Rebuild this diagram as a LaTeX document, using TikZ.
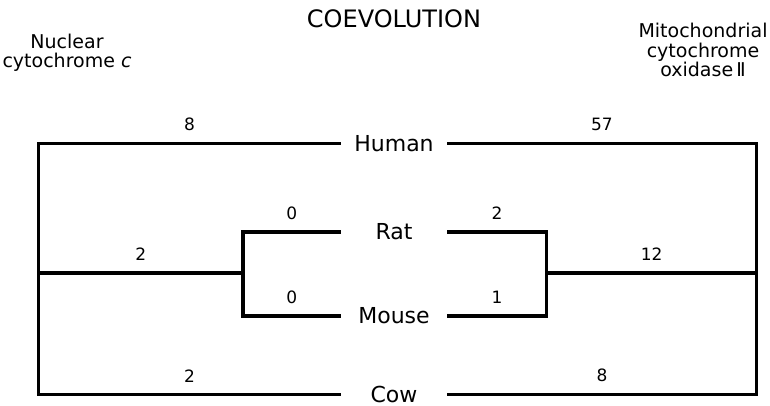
\documentclass[tikz,border=0pt]{standalone}
\usepackage{fontspec}
\setmainfont{DejaVu Sans}

\begin{document}
\begin{tikzpicture}[x=1pt, y=-1pt,
        branch/.style={line width=3.2pt},
        taxon/.style={font=\fontsize{22}{22}\selectfont, minimum width=106pt, inner sep=0pt},
        num/.style={font=\fontsize{17}{17}\selectfont, inner sep=0pt, above=10.8pt},
        head/.style={font=\fontsize{19}{19.5}\selectfont, align=center, inner sep=0pt}]
        \useasboundingbox (0,0) rectangle (770,406);
        \node[font=\fontsize{24}{24}\selectfont, inner sep=0pt] (T) at (394,18.5) {COEVOLUTION};
        \node[head] (N) at (67,53) {Nuclear\\cytochrome \textit{c}};
        \node[head] (Mi) at (703,50) {Mitochondrial\\cytochrome\\oxidase\,Ⅱ};
        \node[taxon] (H) at (394,143.5) {Human};
        \node[taxon] (R) at (394,232) {Rat};
        \node[taxon] (Mo) at (394,316) {Mouse};
        \node[taxon] (C) at (394,394.5) {Cow};
        \coordinate (NL) at (38.5,273);
        \coordinate (NR) at (243,273);
        \coordinate (ML) at (546.7,273);
        \coordinate (MR) at (756.7,273);
        \draw[branch] (H.west) -| node[num, pos=.25] {8} (NL) |- node[num, pos=.75] {2} (C.west);
        \draw[branch] (NL) -- node[num, midway] {2} (NR);
        \draw[branch] (R.west) -| node[num, pos=.25] {0} (NR) |- node[num, pos=.75] {0} (Mo.west);
        \draw[branch] (H.east) -| node[num, pos=.25] {57} (MR) |- node[num, pos=.75] {8} (C.east);
        \draw[branch] (ML) -- node[num, midway] {12} (MR);
        \draw[branch] (R.east) -| node[num, pos=.25] {2} (ML) |- node[num, pos=.75] {1} (Mo.east);
    \end{tikzpicture}
\end{document}
